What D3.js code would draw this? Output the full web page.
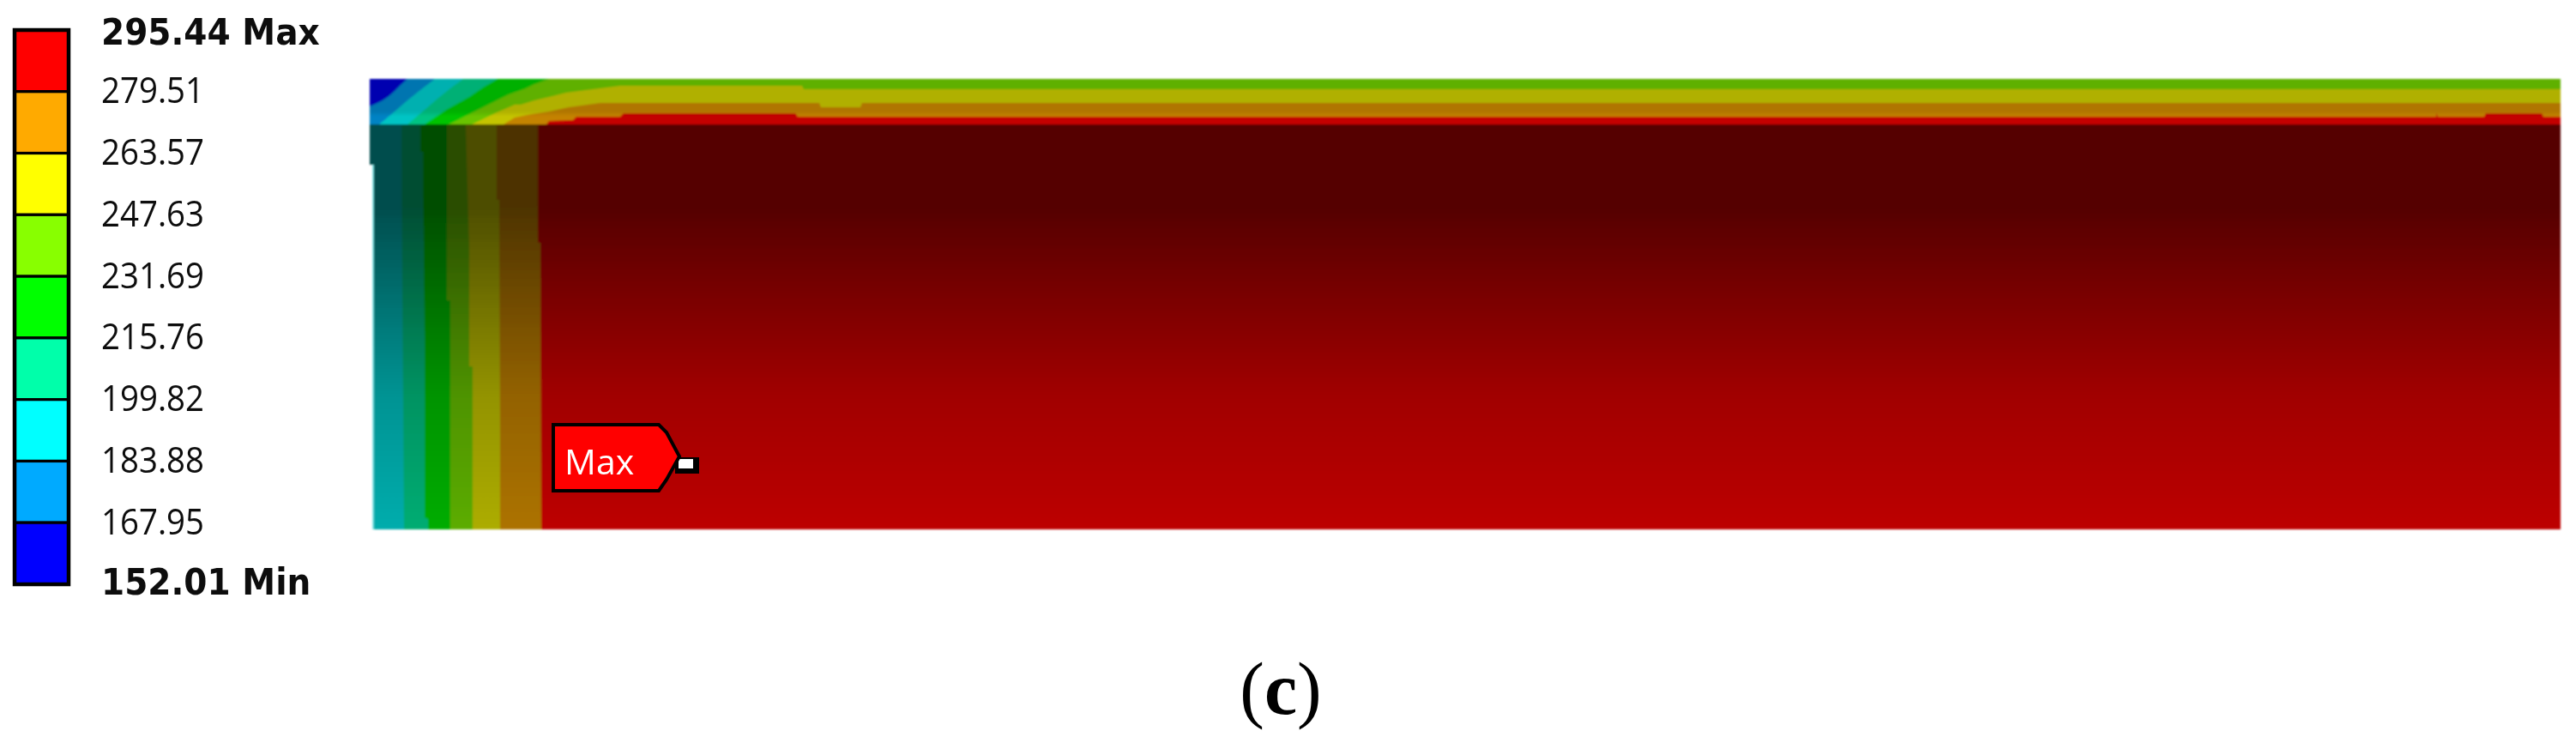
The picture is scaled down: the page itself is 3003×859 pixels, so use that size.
<!DOCTYPE html>
<html>
<head>
<meta charset="utf-8">
<script src="https://cdn.jsdelivr.net/npm/d3@7/dist/d3.min.js"></script>
<style>
  html, body { margin: 0; background: #fff; }
  svg { display: block; }
</style>
</head>
<body>
<svg></svg>
<script>
const width = 3003;
const height = 859;

// Legend
const legend_values = [295.44, 279.51, 263.57, 247.63, 231.69, 215.76, 199.82, 183.88, 167.95, 152.01];
const legend_suffix = [" Max", "", "", "", "", "", "", "", "", " Min"];
const contour_levels = [167.95, 183.88, 199.82, 215.76, 231.69, 247.63, 263.57, 279.51];
const band_colors = ["#0000ff", "#00aaff", "#00ffff", "#00ffaa", "#00ff00", "#88ff00", "#ffff00", "#ffaa00", "#ff0000"];

// Contour lines of the top layer (distance from the top left corner)
const top_lines = [
  [[44, 0], [37, 6], [32, 11], [27, 16], [21, 21], [15, 25], [9, 28], [0, 32]],
  [[76, 0], [59, 13], [44, 25], [29, 38], [11, 53], [0, 53]],
  [[109, 0], [94, 11], [79, 23], [64, 36], [44, 53], [0, 53]],
  [[149, 0], [132, 10], [116, 21], [89, 36], [64, 53], [0, 53]],
  [[209, 0], [192, 6], [182, 11], [162, 18], [146, 26], [122, 38], [92, 53], [0, 53]],
  [[2554, 0], [2554, 12], [506, 12], [504, 8], [292, 8], [252, 13], [229, 16], [209, 21], [192, 25], [176, 30], [169, 30], [146, 40], [119, 53], [0, 53]],
  [[2554, 0], [2554, 28], [574, 28], [572, 33], [526, 33], [524, 28], [269, 28], [232, 33], [209, 38], [189, 41], [169, 45], [156, 53], [0, 53]],
  [[2554, 0], [2554, 44], [2534, 44], [2532, 40], [2467, 40], [2465, 44], [2411, 44], [2409, 40], [2409, 44], [499, 44], [496, 40], [296, 40], [292, 44], [241, 44], [237, 48], [209, 49], [206, 53], [0, 53]]
];

// Contour lines of the lower block
const lower_levels = [199.82, 215.76, 231.69, 247.63, 263.57, 279.51];
const lower_lines = [
  [[37, 53], [38, 250], [40, 525]],
  [[59, 53], [59, 85], [62, 85], [64, 300], [64, 511], [68, 513], [68, 525]],
  [[90, 53], [90, 258], [94, 258], [94, 525]],
  [[112, 53], [116, 200], [116, 335], [120, 335], [120, 525]],
  [[148, 53], [148, 141], [151, 141], [152, 400], [152, 525]],
  [[196, 53], [196, 191], [199, 191], [200, 525]]
];
const block_outline = [[0, 53], [2554, 53], [2554, 525], [4, 525], [4, 100], [0, 100]];
const layer_outline = [[0, 0], [2554, 0], [2554, 53], [0, 53]];

// Shading over the model: depth and how dark it is there
const shade_depth = [0, 38, 44, 52.9, 53, 148, 248, 368, 525];
const shade_opacity = [0.31, 0.31, 0.23, 0.23, 0.67, 0.67, 0.53, 0.37, 0.26];

const svg = d3.select("svg").attr("width", width).attr("height", height);

const x_scale = d3.scaleLinear().domain([0, 2554]).range([431, 2985]);
const y_scale = d3.scaleLinear().domain([0, 525]).range([92, 617]);
const legend_scale = d3.scaleLinear().domain([152.01, 295.44]).range([681, 35]);

const band_scale = d3.scaleThreshold().domain(contour_levels).range(band_colors);
const bandBelow = (level) => band_scale(level - 1);

const line_generator = d3.line()
  .x((d) => x_scale(d[0]))
  .y((d) => y_scale(d[1]));

const defs = svg.append("defs");

const addBlur = (id, amount) => {
  defs.append("filter")
    .attr("id", id)
    .attr("filterUnits", "userSpaceOnUse")
    .attr("x", 0).attr("y", 0)
    .attr("width", width).attr("height", height)
    .append("feGaussianBlur")
    .attr("stdDeviation", amount);
};
addBlur("soft", 1.2);
addBlur("soft_text", 0.7);

const gradient = defs.append("linearGradient")
  .attr("id", "shade")
  .attr("gradientUnits", "userSpaceOnUse")
  .attr("x1", 0).attr("x2", 0)
  .attr("y1", y_scale(0)).attr("y2", y_scale(525));
shade_depth.forEach((d, i) => {
  gradient.append("stop")
    .attr("offset", d / 525)
    .attr("stop-color", "#000")
    .attr("stop-opacity", shade_opacity[i]);
});

// Model
const model = svg.append("g").attr("filter", "url(#soft)");

model.append("path")
  .attr("d", line_generator(layer_outline) + "Z")
  .attr("fill", band_colors[8]);

// hottest first, colder bands are painted over from the left side
for (let i = top_lines.length - 1; i >= 0; i--) {
  model.append("path")
    .attr("d", line_generator([[0, 0]].concat(top_lines[i])) + "Z")
    .attr("fill", bandBelow(contour_levels[i]));
}

model.append("path")
  .attr("d", line_generator(block_outline) + "Z")
  .attr("fill", band_colors[8]);

for (let i = lower_lines.length - 1; i >= 0; i--) {
  const side = [[4, 525], [4, 100], [0, 100], [0, 53]];
  model.append("path")
    .attr("d", line_generator(lower_lines[i].concat(side)) + "Z")
    .attr("fill", d3.rgb(bandBelow(lower_levels[i])).darker(0.25));
}

model.append("path")
  .attr("d", line_generator(layer_outline.concat(block_outline)) + "Z")
  .attr("fill", "url(#shade)");

// pale rim on the left side of the block
model.append("path")
  .attr("d", line_generator([[4, 100], [4, 525]]))
  .attr("stroke", "#6fe6e6")
  .attr("stroke-width", 1.5)
  .attr("fill", "none");

// Legend
const legend = svg.append("g").attr("filter", "url(#soft_text)");

const legend_bands = d3.pairs(legend_values);
legend.selectAll("rect.band")
  .data(legend_bands)
  .join("rect")
  .attr("class", "band")
  .attr("x", 17)
  .attr("width", 63)
  .attr("y", (d) => legend_scale(d[0]))
  .attr("height", (d) => legend_scale(d[1]) - legend_scale(d[0]))
  .attr("fill", (d) => band_scale(d[1] + 1))
  .attr("stroke", "#000")
  .attr("stroke-width", 3.2);

legend.append("rect")
  .attr("x", 17)
  .attr("width", 63)
  .attr("y", legend_scale(295.44))
  .attr("height", legend_scale(152.01) - legend_scale(295.44))
  .attr("fill", "none")
  .attr("stroke", "#000")
  .attr("stroke-width", 4.5);

const legend_axis = d3.axisRight(legend_scale)
  .tickValues(legend_values)
  .tickSize(0)
  .tickPadding(0)
  .tickFormat((d, i) => d3.format(".2f")(d) + legend_suffix[i]);

const axis_g = legend.append("g")
  .attr("transform", "translate(118,0)")
  .call(legend_axis);
axis_g.select(".domain").remove();
axis_g.selectAll("text")
  .attr("x", 0)
  .attr("dy", (d, i) => (i === 0 ? "16px" : i === 9 ? "11px" : "13px"))
  .attr("fill", "#111")
  .style("font-family", (d, i) => (legend_suffix[i] ? "'DejaVu Sans', sans-serif" : "'Open Sans', sans-serif"))
  .style("font-size", "42px")
  .style("font-weight", (d, i) => (legend_suffix[i] ? "bold" : "normal"))
  .attr("transform", (d, i) => (legend_suffix[i] ? "scale(0.93,1)" : "scale(0.915,1)"));

// Max probe label
const max_tag = svg.append("g").attr("filter", "url(#soft_text)");
const tag_outline = [[214, 403], [337, 403], [346, 412], [361, 440], [346, 467], [337, 480], [214, 480]];

max_tag.append("rect")
  .attr("x", x_scale(356)).attr("y", y_scale(441))
  .attr("width", 28).attr("height", 19)
  .attr("fill", "#000");
max_tag.append("rect")
  .attr("x", x_scale(360)).attr("y", y_scale(443))
  .attr("width", 17).attr("height", 11)
  .attr("fill", "#fff");
max_tag.append("path")
  .attr("d", line_generator(tag_outline) + "Z")
  .attr("fill", "#ff0000")
  .attr("stroke", "#000")
  .attr("stroke-width", 4);
max_tag.append("text")
  .attr("x", x_scale(227))
  .attr("y", y_scale(461))
  .attr("fill", "#fff")
  .style("font-family", "'Open Sans', sans-serif")
  .style("font-size", "41px")
  .text("Max");

// Panel caption
const caption = svg.append("text")
  .attr("x", 1493)
  .attr("y", 832)
  .attr("text-anchor", "middle")
  .attr("fill", "#000")
  .style("font-family", "'Liberation Serif', serif")
  .style("font-size", "86px");
caption.append("tspan").text("(");
caption.append("tspan").style("font-weight", "bold").text("c");
caption.append("tspan").text(")");
</script>
</body>
</html>
